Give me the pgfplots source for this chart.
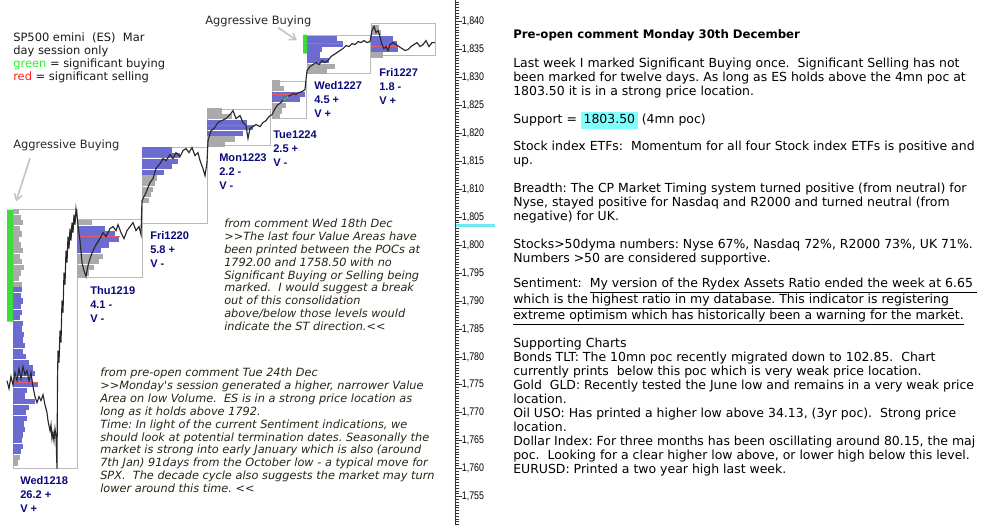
\documentclass[border=0pt]{standalone}
\usepackage{pgfplots}
\pgfplotsset{compat=1.18}
\usepackage{fontspec}
\setmainfont{DejaVu Sans}[Ligatures=TeXOff]
\newfontfamily\lib{Liberation Sans}[Ligatures=TeXOff]
\usetikzlibrary{arrows.meta}
\definecolor{profblue}{RGB}{108,108,208}
\definecolor{profgray}{RGB}{170,170,170}
\definecolor{boxgray}{RGB}{185,185,185}
\definecolor{arrgray}{RGB}{195,195,195}
\definecolor{poc}{RGB}{232,90,110}
\definecolor{sigbuy}{RGB}{60,220,60}
\definecolor{txtgreen}{RGB}{40,240,40}
\definecolor{txtred}{RGB}{255,30,30}
\definecolor{navy}{RGB}{10,10,120}
\definecolor{cmt}{RGB}{40,36,20}
\definecolor{hl}{RGB}{128,255,255}
\definecolor{cyanline}{RGB}{110,235,240}
\definecolor{pricec}{RGB}{40,40,40}
\pgfplotsset{
  prof/.style={draw=none, mark=none, forget plot,
    error bars/x dir=plus, error bars/x explicit, error bars/error mark=none,
    error bars/error bar style={draw=#1, line width=3.9pt}},
  dbox/.style={boxgray, line width=0.75pt, forget plot},
  pocl/.style={poc, line width=0.8pt, forget plot},
}
\begin{document}
\begin{tikzpicture}
\begin{axis}[
  at={(0,0)}, anchor=south west,
  scale only axis, width=341.25pt, height=393pt,
  xmin=0, xmax=455, ymin=1750, ymax=1843.77,
  clip=false,
  axis x line=none,
  axis y line=right,
  y axis line style={-, draw=black!80, line width=0.75pt},
  tick align=outside,
  ytick={1755,1760,...,1840},
  minor ytick={1750,1750.5,...,1843.5},
  major tick length=5pt, minor tick length=3.2pt,
  every tick/.style={black!80, line width=0.5pt},
  yticklabel style={font=\lib\fontsize{8.3}{9}\selectfont, xscale=0.8, anchor=west, inner sep=0pt},
  /pgf/number format/.cd, 1000 sep={,}, assume math mode=true,
]
% day boxes
\addplot[dbox] coordinates {(13,1806.36)(77,1806.36)(77,1760.01)(13,1760.01)(13,1806.36)};
\addplot[dbox] coordinates {(77,1804.57)(142,1804.57)(142,1794.19)(77,1794.19)(77,1804.57)};
\addplot[dbox] coordinates {(142,1817.45)(207,1817.45)(207,1803.85)(142,1803.85)(142,1817.45)};
\addplot[dbox] coordinates {(207,1824.25)(270,1824.25)(270,1817.81)(207,1817.81)(207,1824.25)};
\addplot[dbox] coordinates {(272,1829.27)(306,1829.27)(306,1822.65)(272,1822.65)(272,1829.27)};
\addplot[dbox] coordinates {(307,1837.50)(370,1837.50)(370,1830.70)(307,1830.70)(307,1837.50)};
\addplot[dbox] coordinates {(371,1839.64)(435,1839.64)(435,1833.92)(371,1833.92)(371,1839.64)};
% volume profiles: Wed1218
\addplot[prof=profgray] coordinates {
 (13,1806) +- (6,0) (13,1805) +- (8,0) (13,1804) +- (10,0) (13,1803) +- (7,0)
 (13,1802) +- (9,0) (13,1801) +- (6,0) (13,1800) +- (8,0) (13,1799) +- (10,0)
 (13,1798) +- (7,0) (13,1797) +- (9,0) (13,1796) +- (11,0) (13,1795) +- (8,0)
 (13,1794) +- (6,0) (13,1793) +- (9,0) (13,1762) +- (7,0) (13,1761) +- (5,0)};
\addplot[prof=profblue] coordinates {
 (13,1792) +- (9,0) (13,1791) +- (8,0) (13,1790) +- (10,0) (13,1789) +- (8,0)
 (13,1788) +- (9,0) (13,1787) +- (7,0) (13,1786) +- (10,0) (13,1785) +- (9,0)
 (13,1784) +- (11,0) (13,1783) +- (10,0) (13,1782) +- (12,0) (13,1781) +- (10,0)
 (13,1780) +- (13,0) (13,1779) +- (16,0) (13,1778) +- (20,0) (13,1777) +- (22,0)
 (13,1776) +- (19,0) (13,1775) +- (25,0) (13,1774) +- (14,0) (13,1773) +- (12,0)
 (13,1772) +- (22,0) (13,1771) +- (16,0) (13,1770) +- (13,0) (13,1769) +- (14,0)
 (13,1768) +- (11,0) (13,1767) +- (12,0) (13,1766) +- (10,0) (13,1765) +- (9,0)
 (13,1764) +- (10,0) (13,1763) +- (8,0)};
% Thu1219
\addplot[prof=profgray] coordinates {
 (77,1804) +- (15,0) (77,1798) +- (26,0) (77,1797) +- (22,0) (77,1796) +- (17,0)
 (77,1795) +- (12,0) (77,1794.5) +- (8,0)};
\addplot[prof=profblue] coordinates {
 (77,1803) +- (28,0) (77,1802) +- (38,0) (77,1801) +- (42,0) (77,1800) +- (32,0)
 (77,1799) +- (24,0)};
% Fri1220
\addplot[prof=profblue] coordinates {
 (142,1817) +- (30,0) (142,1816) +- (38,0) (142,1815) +- (36,0) (142,1814) +- (30,0)
 (142,1813) +- (22,0)};
\addplot[prof=profgray] coordinates {
 (142,1812) +- (15,0) (142,1811) +- (13,0) (142,1810) +- (11,0) (142,1809) +- (9,0)
 (142,1808) +- (7,0)};
% Mon1223
\addplot[prof=profgray] coordinates {
 (207,1824) +- (15,0) (207,1823) +- (25,0) (207,1819) +- (28,0) (207,1818) +- (18,0)};
\addplot[prof=profblue] coordinates {
 (207,1822) +- (40,0) (207,1821) +- (46,0) (207,1820) +- (36,0)};
% Tue1224
\addplot[prof=profgray] coordinates {
 (272,1829) +- (8,0) (272,1828) +- (12,0) (272,1825) +- (14,0) (272,1824) +- (10,0)
 (272,1823) +- (8,0)};
\addplot[prof=profblue] coordinates {
 (272,1827) +- (33,0) (272,1826) +- (28,0)};
% Wed1227
\addplot[prof=profblue] coordinates {
 (307,1837) +- (30,0) (307,1836) +- (36,0) (307,1835) +- (15,0) (307,1834) +- (13,0)
 (307,1833) +- (22,0)};
\addplot[prof=profgray] coordinates {
 (307,1832) +- (28,0) (307,1831) +- (20,0)};
% Fri1227
\addplot[prof=profgray] coordinates {
 (371,1839) +- (8,0) (371,1838) +- (10,0) (371,1834) +- (12,0)};
\addplot[prof=profblue] coordinates {
 (371,1837) +- (22,0) (371,1836) +- (26,0) (371,1835) +- (27,0)};
% POC lines
\addplot[pocl] coordinates {(13,1775.4)(37,1775.4)};
\addplot[pocl] coordinates {(77,1801.5)(120,1801.5)};
\addplot[pocl] coordinates {(142,1815.66)(180,1815.66)};
\addplot[pocl] coordinates {(207,1821.4)(255,1821.4)};
\addplot[pocl] coordinates {(272,1826.9)(300,1826.9)};
\addplot[pocl] coordinates {(307,1836.1)(343,1836.1)};
\addplot[pocl] coordinates {(371,1835.5)(398,1835.5)};
% significant buying
\addplot[fill=sigbuy, draw=none, forget plot] coordinates {(7,1806.36)(13,1806.36)(13,1786.32)(7,1786.32)(7,1806.36)};
\addplot[fill=sigbuy, draw=none, forget plot] coordinates {(303,1837.68)(307,1837.68)(307,1834.28)(303,1834.28)(303,1837.68)};
% price
\addplot[pricec, line width=0.85pt, forget plot] coordinates {
(7,1775.74)(9,1774.31)(11,1776.46)(13,1775.02)(15,1777.17)(17,1775.74)(19,1777.89)
(21,1776.10)(23,1778.25)(25,1776.81)(27,1777.53)(29,1775.74)(31,1777.17)(33,1774.67)
(35,1772.88)(37,1771.80)(39,1772.88)(41,1772.16)(43,1773.23)(45,1771.44)(47,1770.01)
(48,1768.58)(50,1766.79)(51,1767.86)(52,1765.36)(53,1766.43)(54,1765.00)(55,1767.15)
(56,1765.72)(57,1759.99)(57.5,1775.74)(58,1781.11)(59,1778.96)(60,1784.69)(61,1782.54)
(62,1790.06)(63,1787.91)(64,1795.07)(65,1792.92)(66,1799.01)(67,1796.86)(68,1801.52)
(69,1799.37)(70,1802.95)(71,1800.80)(72,1804.02)(73,1802.23)(74,1805.45)(75,1803.66)
(76,1806.53)(77,1805.27)
(78,1803.48)(80,1800.80)(82,1796.86)(84,1795.43)(86,1794.36)(88,1796.32)(90,1797.58)
(93,1799.01)(96,1800.08)(100,1801.16)(103,1802.23)(106,1801.52)(110,1802.95)(113,1803.31)
(116,1802.59)(118,1803.66)(121,1802.23)(124,1801.16)(127,1802.59)(130,1803.31)(133,1804.02)
(136,1802.59)(139,1803.31)(141,1801.87)
(142,1807.96)(146,1809.39)(150,1811.18)(153,1811.90)(156,1813.69)(160,1814.58)(163,1815.48)
(166,1815.12)(170,1816.19)(173,1815.48)(176,1816.55)(180,1815.84)(183,1816.91)(186,1817.27)
(189,1816.55)(192,1817.45)(195,1816.01)(198,1816.55)(200,1815.12)(203,1813.69)(205,1812.43)
(207,1814.76)
(208,1818.70)(211,1820.49)(214,1820.85)(218,1821.92)(222,1822.28)(226,1822.64)(230,1823.35)
(233,1824.07)(236,1822.64)(240,1823.17)(243,1821.92)(246,1821.38)(248,1819.06)(250,1820.85)
(253,1821.21)(256,1821.56)(260,1821.21)(263,1821.92)(266,1822.28)(269,1823.00)
(272,1823.35)(275,1824.43)(278,1825.14)(281,1825.50)(284,1826.22)(287,1826.58)(290,1826.76)
(293,1827.11)(296,1826.93)(299,1827.29)(302,1827.47)(305,1827.83)
(307,1831.23)(310,1831.95)(313,1832.30)(316,1832.66)(319,1832.30)(322,1833.02)(325,1832.66)
(328,1833.02)(331,1833.74)(334,1834.09)(337,1834.45)(340,1834.81)(343,1835.17)(346,1835.70)
(349,1835.53)(352,1836.06)(355,1835.88)(358,1836.42)(361,1836.24)(364,1836.60)(367,1836.24)
(370,1836.42)
(372,1838.39)(374,1839.11)(376,1838.03)(378,1838.39)(380,1837.32)(382,1835.88)(384,1835.17)
(386,1835.53)(388,1834.81)(390,1835.88)(393,1836.24)(396,1835.88)(399,1835.53)(402,1835.17)
(405,1834.81)(408,1834.99)(411,1835.53)(414,1835.88)(417,1836.24)(420,1835.53)(423,1835.88)
(426,1836.60)(429,1835.53)(432,1836.24)(435,1836.24)};
\addplot[sigbuy, line width=0.9pt, forget plot] coordinates {(283,1826.0)(288,1826.6)};
% 4mn poc marker on the scale
\addplot[cyanline, line width=2.2pt, forget plot] coordinates {(455.5,1803.5)(495,1803.5)};
\end{axis}
% annotations in pixel coordinates (anchor = baseline of the last line)
\begin{scope}[x=0.75pt, y=-0.75pt, shift={(0pt,393pt)}]
\path (0,0) rectangle (998,524);
\draw[arrgray, line width=1.2pt, -{Straight Barb[length=4.5pt, width=6pt]}] (30,158) -- (16,201);
\draw[arrgray, line width=1.2pt, -{Straight Barb[length=4.5pt, width=6pt]}] (278,27) -- (297,40);
\tikzset{txt/.style={anchor=base west, inner sep=0pt, align=left}}
\node[txt, font=\fontsize{8.6}{9.75}\selectfont\frenchspacing, text=black!90] at (13,80)
 {SP500 emini\ \ (ES)\ \ Mar\\day session only\\\textcolor{txtgreen}{green} = significant buying\\\textcolor{txtred}{red} = significant selling};
\node[txt, font=\fontsize{8.6}{9.75}\selectfont, text=black!85] at (13,148) {Aggressive Buying};
\node[txt, font=\fontsize{8.6}{9.75}\selectfont, text=black!85] at (205,24) {Aggressive Buying};
% day labels
\tikzset{daylab/.style={txt, font=\lib\bfseries\fontsize{8.3}{10.5}\selectfont, text=navy}}
\node[daylab] at (20,512) {Wed1218\\26.2 +\\V +};
\node[daylab] at (90,322) {Thu1219\\4.1 -\\V -};
\node[daylab] at (150,267) {Fri1220\\5.8 +\\V -};
\node[daylab] at (219,189) {Mon1223\\2.2 -\\V -};
\node[daylab] at (273,166) {Tue1224\\2.5 +\\V -};
\node[daylab] at (314,117) {Wed1227\\4.5 +\\V +};
\node[daylab] at (379,104) {Fri1227\\1.8 -\\V +};
% comments
\tikzset{cmnt/.style={txt, font=\fontsize{8.5}{9.65}\selectfont\itshape\frenchspacing, text=cmt}}
\node[cmnt] at (224,330) {from comment Wed 18th Dec\\>>The last four Value Areas have\\been printed between the POCs at\\1792.00 and 1758.50 with no\\Significant Buying or Selling being\\marked.\ \ I would suggest a break\\out of this consolidation\\above/below those levels would\\indicate the ST direction.<<};
\node[cmnt] at (100,492) {from pre-open comment Tue 24th Dec\\>>Monday's session generated a higher, narrower Value\\Area on low Volume.\ \ ES is in a strong price location as\\long as it holds above 1792.\\Time: In light of the current Sentiment indications, we\\should look at potential termination dates. Seasonally the\\market is strong into early January which is also (around\\7th Jan) 91days from the October low - a typical move for\\SPX.\ \ The decade cycle also suggests the market may turn\\lower around this time. <<};
% right panel
\tikzset{rpan/.style={txt, font=\fontsize{9.35}{10.5}\selectfont\frenchspacing, text=black}}
\node[rpan, font=\fontsize{8.8}{10.5}\selectfont\bfseries] at (513,38) {Pre-open comment Monday 30th December};
\node[rpan] at (513,95) {Last week I marked Significant Buying once.\ \ Significant Selling has not\\been marked for twelve days. As long as ES holds above the 4mn poc at\\1803.50 it is in a strong price location.};
\node[rpan] at (513,123) {Support = {\setlength\fboxsep{1pt}\colorbox{hl}{\strut\hspace{1pt}1803.50\hspace{1pt}}} (4mn poc)};
\node[rpan] at (513,164.5) {Stock index ETFs:\ \ Momentum for all four Stock index ETFs is positive and\\up.};
\node[rpan] at (513,220) {Breadth: The CP Market Timing system turned positive (from neutral) for\\Nyse, stayed positive for Nasdaq and R2000 and turned neutral (from\\negative) for UK.};
\node[rpan] at (513,262) {Stocks>50dyma numbers: Nyse 67\%, Nasdaq 72\%, R2000 73\%, UK 71\%.\\Numbers >50 are considered supportive.};
\node[rpan] at (513,319) {Sentiment:\ \ \underline{My version of the Rydex Assets Ratio ended the week at 6.65\ }\\\underline{which is the highest ratio in my database. This indicator is registering\ }\\\underline{extreme optimism which has historically been a warning for the market.}};
\node[rpan] at (513,473) {Supporting Charts\\Bonds TLT: The 10mn poc recently migrated down to 102.85.\ \ Chart\\currently prints\ \ below this poc which is very weak price location.\\Gold\ \ GLD: Recently tested the June low and remains in a very weak price\\location.\\Oil USO: Has printed a higher low above 34.13, (3yr poc).\ \ Strong price\\location.\\Dollar Index: For three months has been oscillating around 80.15, the maj\\poc.\ \ Looking for a clear higher low above, or lower high below this level.\\EURUSD: Printed a two year high last week.};
\end{scope}
\end{tikzpicture}
\end{document}
